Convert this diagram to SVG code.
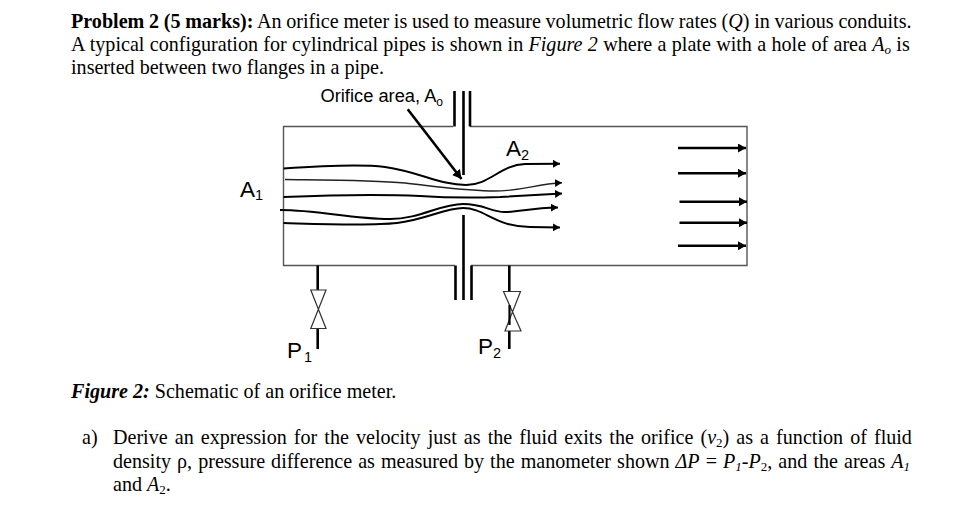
<svg xmlns="http://www.w3.org/2000/svg" width="967" height="513" viewBox="0 0 967 513">
<style>
.t{font-family:"Liberation Serif","Times New Roman",serif;font-size:20.1px;fill:#000}
.b{font-weight:bold}
.i{font-style:italic}
.s{font-size:13px}
.a{font-family:"Liberation Sans",Arial,sans-serif;font-size:18.3px;fill:#000}
.as{font-family:"Liberation Sans",Arial,sans-serif;font-size:12px;fill:#000}
.big{font-size:22.5px}
.bs{font-size:14.5px}
.wall{fill:none;stroke:#555;stroke-width:1.4}
.k{fill:none;stroke:#000;stroke-width:2.6}
.fl{fill:none;stroke:#000;stroke-width:2;marker-end:url(#h)}
.thin{fill:none;stroke:#222;stroke-width:1.4;marker-end:url(#h)}
.out{fill:none;stroke:#000;stroke-width:2.4;marker-end:url(#h2)}
.v{fill:#fff;stroke:#333;stroke-width:1.2}
</style>
<defs>
<marker id="h" markerUnits="userSpaceOnUse" markerWidth="9" markerHeight="9" refX="7" refY="4" orient="auto"><path d="M0 0L7 4L0 8Z" fill="#000"/></marker>
<marker id="h2" markerUnits="userSpaceOnUse" markerWidth="10" markerHeight="10" refX="8" refY="4.5" orient="auto"><path d="M0 0L8 4.5L0 9Z" fill="#000"/></marker>
<marker id="h3" markerUnits="userSpaceOnUse" markerWidth="12" markerHeight="12" refX="9" refY="5" orient="auto"><path d="M0 0L9 5L0 10Z" fill="#000"/></marker>
</defs>
<rect width="967" height="513" fill="#fff"/>
<g id="problem-text">
<text class="t" x="71" y="28" word-spacing="-0.3"><tspan class="b">Problem 2 (5 marks):</tspan> An orifice meter is used to measure volumetric flow rates (<tspan class="i">Q</tspan>) in various conduits.</text>
<text class="t" x="71" y="51" word-spacing="0.3">A typical configuration for cylindrical pipes is shown in <tspan class="i">Figure 2</tspan> where a plate with a hole of area <tspan class="i">A</tspan><tspan class="i s" dy="3">o</tspan><tspan dy="-3"> is</tspan></text>
<text class="t" x="71" y="74">inserted between two flanges in a pipe.</text>
</g>
<g id="pipe">
<path class="wall" d="M453 126.5H283.5V265.5H455M471 265.5H747V126.5H470"/>
</g>
<g id="orifice-plate">
<path class="k" d="M454.5 91V126.5M470 91V126.5M463.5 91V175M463.5 215V300M455.5 265.5V300M471.5 265.5V300"/>
</g>
<g id="tap-p1">
<path class="k" d="M317.7 265.5V290M317.7 328V349"/>
<path class="v" d="M310.8 290H326L310.8 328.5H326Z"/>
</g>
<g id="tap-p2">
<path class="k" d="M509.3 265.5V292M509.3 331V349"/>
<path class="v" d="M503.5 291.5H520.5L505 331H521Z"/>
<path d="M509.5 305V325" stroke="#000" stroke-width="2.2"/>
</g>
<g id="connectors">
<path class="fl" d="M283.5 168.5C320 166 360 164 385 167C420 172 440 185 466 185C490 185 500 165 525 164L560 163.7"/>
<path class="thin" d="M285 179.5C330 180 375 180 405 183C440 187 460 190 490 191C520 192 535 184 562 182.7"/>
<path class="fl" d="M283.5 197C330 195 380 194 420 196C450 198 470 198 500 197L562 193.5"/>
<path class="fl" d="M280 210C320 210 350 219 390 219C420 219 440 204 463 204C485 204 490 212 505 212C520 212 530 208 558 207.5"/>
<path class="fl" d="M283.5 223C320 224 370 226 397 223C425 220 445 208 463 208C485 208 495 227 530 227L560 227.5"/>
<path class="out" d="M678 148H746"/>
<path class="out" d="M678 173.3H746"/>
<path class="out" d="M679.5 201.7H747"/>
<path class="out" d="M679.5 222.7H747"/>
<path class="out" d="M678 245.7H746"/>
<path d="M407.7 109.3L461.5 179" fill="none" stroke="#000" stroke-width="2.6" marker-end="url(#h3)"/>
</g>
<g id="labels">
<text class="a" x="320.5" y="102">Orifice area, A<tspan class="as" dy="4">o</tspan></text>
<text class="a big" x="506" y="156">A<tspan class="as bs" dy="4">2</tspan></text>
<text class="a big" x="240" y="197">A<tspan class="as bs" dy="3">1</tspan></text>
<text class="a big" x="287" y="358">P<tspan class="as bs" dy="4" dx="2">1</tspan></text>
<text class="a big" x="478" y="354">P<tspan class="as bs" dy="4">2</tspan></text>
</g>
<g id="caption">
<text class="t" x="71" y="398"><tspan class="b i">Figure 2:</tspan> Schematic of an orifice meter.</text>
</g>
<g id="question">
<text class="t" x="82" y="444">a)</text>
<text class="t" x="113" y="444" word-spacing="2.05">Derive an expression for the velocity just as the fluid exits the orifice (<tspan class="i">v</tspan><tspan class="s" dy="3">2</tspan><tspan dy="-3">) as a function of fluid</tspan></text>
<text class="t" x="113" y="468" word-spacing="1">density ρ, pressure difference as measured by the manometer shown <tspan class="i">ΔP</tspan> = <tspan class="i">P</tspan><tspan class="i s" dy="3">1</tspan><tspan dy="-3">-</tspan><tspan class="i">P</tspan><tspan class="s" dy="3">2</tspan><tspan dy="-3">, and the areas </tspan><tspan class="i">A</tspan><tspan class="i s" dy="3">1</tspan></text>
<text class="t" x="113" y="491">and <tspan class="i">A</tspan><tspan class="s" dy="3">2</tspan><tspan dy="-3">.</tspan></text>
</g>
</svg>
